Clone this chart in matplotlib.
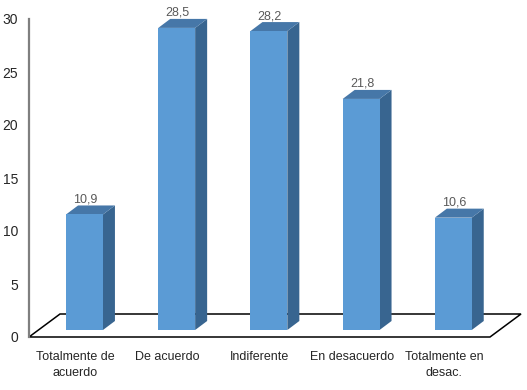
import matplotlib
matplotlib.use("Agg")
import matplotlib.pyplot as plt
import matplotlib.transforms as mtransforms
from matplotlib.patches import Polygon

plt.rcParams['font.family'] = ['Liberation Sans', 'DejaVu Sans']

categories = ['Totalmente de\nacuerdo', 'De acuerdo', 'Indiferente',
              'En desacuerdo', 'Totalmente en\ndesac.']
values = [10.9, 28.5, 28.2, 21.8, 10.6]
value_labels = ['10,9', '28,5', '28,2', '21,8', '10,6']
yticks = [0, 5, 10, 15, 20, 25, 30]

front_col = '#5b9bd5'
top_col = '#4677a8'
side_col = '#386590'

W, H, DPI = 527, 390, 100
fig = plt.figure(figsize=(W / DPI, H / DPI), dpi=DPI)
ax = fig.add_axes([29 / W, (H - 337) / H, 461 / W, 318 / H])
ax.set_xlim(-0.5, len(values) - 0.5)
ax.set_ylim(0, 30)


def shifted(dx, dy):
    # offset in screen pixels, for the fake depth
    return ax.transData + mtransforms.ScaledTranslation(dx / DPI, dy / DPI, fig.dpi_scale_trans)


# floor
fdx, fdy = 31, 23
floor_front = ax.transData
floor_back = shifted(fdx, fdy)
x0, x1 = ax.get_xlim()
p = [floor_front.transform((x0, 0)), floor_front.transform((x1, 0)),
     floor_back.transform((x1, 0)), floor_back.transform((x0, 0))]
ax.add_patch(Polygon(p, closed=True, transform=None, facecolor='white',
                     edgecolor='black', linewidth=1.1, zorder=1, clip_on=False))

# bars
bw = 0.4
d1x, d1y = 9.4, 7
d2x, d2y = 21.4, 16
tf = shifted(d1x, d1y)
tb = shifted(d2x, d2y)
for i, v in enumerate(values):
    l, r = i - bw / 2, i + bw / 2
    fl0, fr0 = tf.transform((l, 0)), tf.transform((r, 0))
    fl1, fr1 = tf.transform((l, v)), tf.transform((r, v))
    bl1, br1 = tb.transform((l, v)), tb.transform((r, v))
    br0 = tb.transform((r, 0))
    ax.add_patch(Polygon([fr0, br0, br1, fr1], transform=None, clip_on=False,
                         facecolor=side_col, edgecolor='none', zorder=3))
    ax.add_patch(Polygon([fl1, fr1, br1, bl1], transform=None, clip_on=False,
                         facecolor=top_col, edgecolor='none', zorder=3))
    ax.add_patch(Polygon([fl0, fr0, fr1, fl1], transform=None, clip_on=False,
                         facecolor=front_col, edgecolor='none', zorder=4))
    ax.annotate(value_labels[i], (i, v), xycoords=shifted(d1x + 1, d2y),
                ha='center', va='bottom', fontsize=9, color='#595959', zorder=5,
                annotation_clip=False)

for s in ['top', 'right', 'bottom']:
    ax.spines[s].set_visible(False)
ax.spines['left'].set_color('#7f7f7f')
ax.spines['left'].set_linewidth(1.6)
ax.spines['left'].set_zorder(6)
ax.set_yticks(yticks)
ax.set_yticklabels([str(t) for t in yticks], fontsize=10, color='#262626')
ax.tick_params(axis='y', length=0, pad=8)
ax.set_xticks(range(len(categories)))
ax.set_xticklabels(categories, fontsize=9, color='#262626', linespacing=1.45)
ax.tick_params(axis='x', length=0, pad=10)
ax.patch.set_visible(False)

fig.savefig('out.png', dpi=DPI)
